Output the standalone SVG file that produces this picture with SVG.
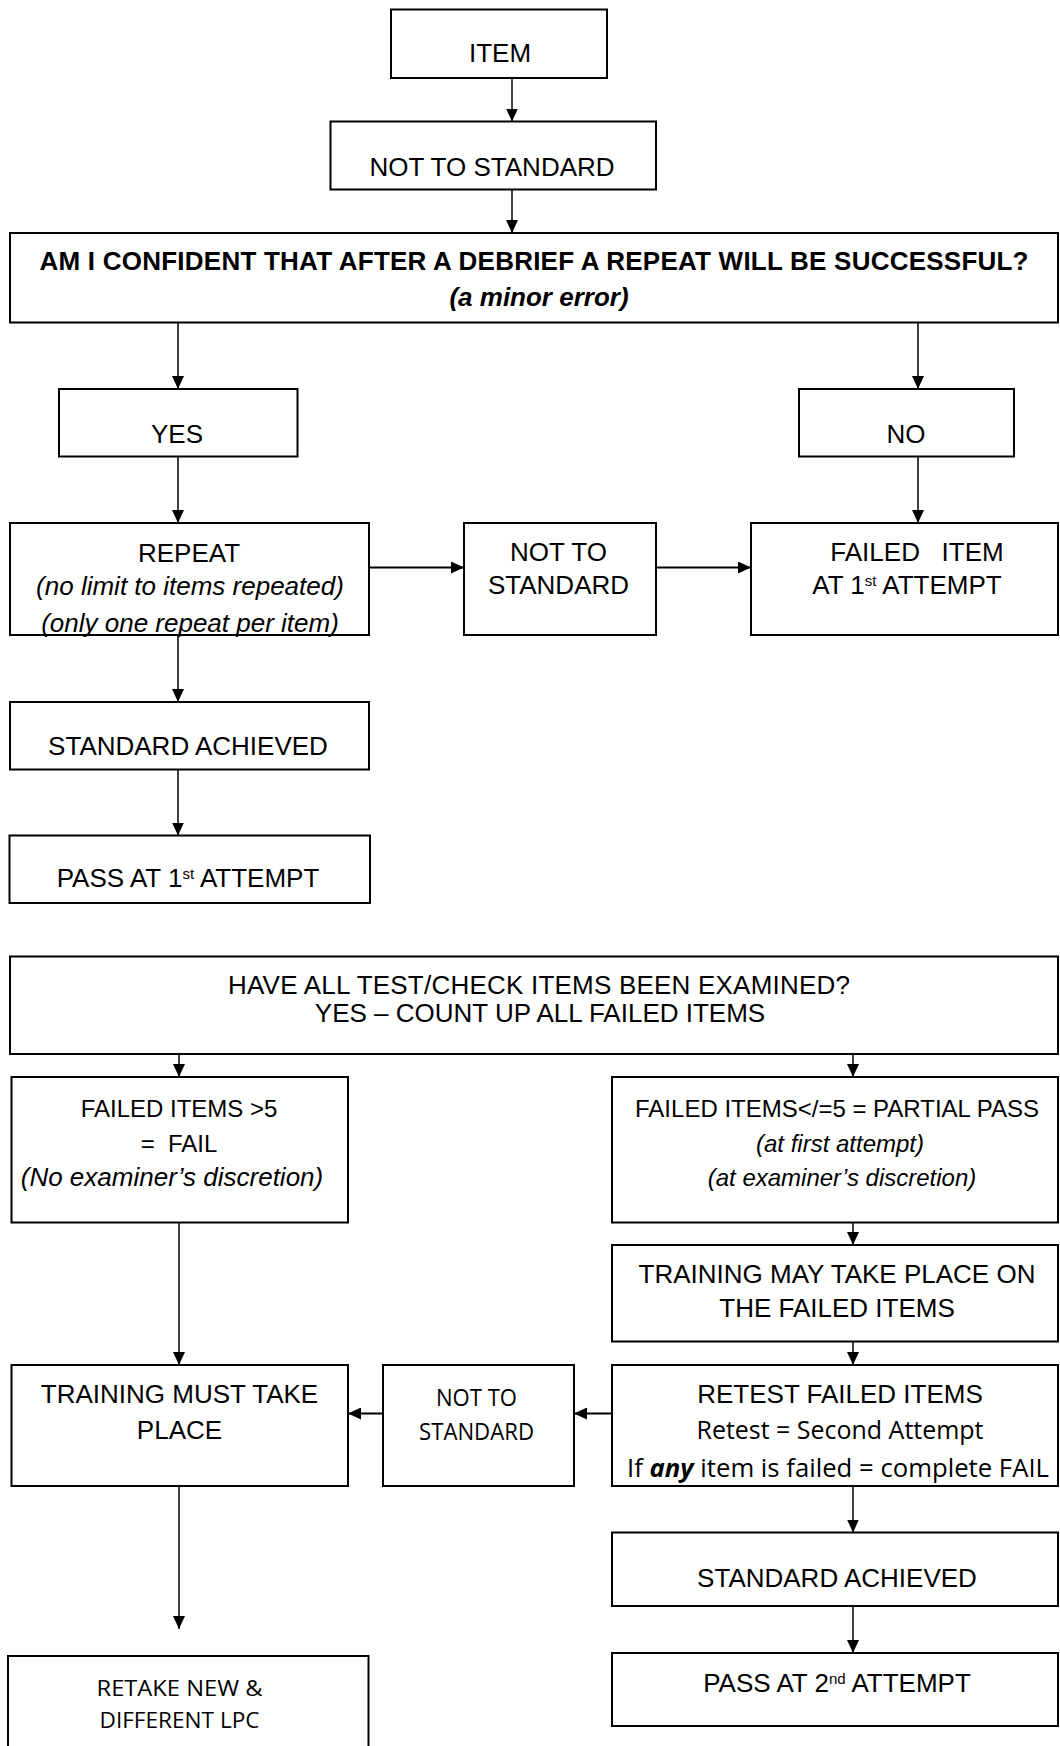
<svg xmlns="http://www.w3.org/2000/svg" width="1060" height="1746" viewBox="0 0 1060 1746">
<style>
.box{fill:#fff;stroke:#000;stroke-width:2}
.c{fill:none;stroke:#000;stroke-width:1.5;marker-end:url(#ah)}
.h{stroke-width:2}
.t{font-family:"Liberation Sans",Arial,sans-serif;font-size:26px;text-anchor:middle;fill:#000}
.s{font-size:24px}
.b{font-weight:bold}
.i{font-style:italic}
.cal{font-family:"Open Sans","Noto Sans",sans-serif;text-anchor:middle;fill:#000}
.sup{font-size:15px}
</style>
<defs>
<marker id="ah" markerUnits="userSpaceOnUse" markerWidth="14" markerHeight="12" refX="13" refY="6" orient="auto">
<path d="M0,0 L13,6 L0,12 z" fill="#000"/>
</marker>
</defs>
<rect width="1060" height="1746" fill="#fff"/>

<g id="connectors">
<line class="c" x1="512" y1="78" x2="512" y2="121.5"/>
<line class="c" x1="512" y1="189.5" x2="512" y2="233"/>
<line class="c" x1="178" y1="322.5" x2="178" y2="389"/>
<line class="c" x1="918" y1="322.5" x2="918" y2="389"/>
<line class="c" x1="178" y1="456.5" x2="178" y2="523"/>
<line class="c" x1="918" y1="456.5" x2="918" y2="523"/>
<line class="c h" x1="369" y1="567.5" x2="464" y2="567.5"/>
<line class="c h" x1="656" y1="567.5" x2="751" y2="567.5"/>
<line class="c" x1="178" y1="635" x2="178" y2="702"/>
<line class="c" x1="178" y1="769.5" x2="178" y2="835.5"/>
<line class="c" x1="179" y1="1054" x2="179" y2="1077"/>
<line class="c" x1="853" y1="1054" x2="853" y2="1077"/>
<line class="c" x1="853" y1="1222.5" x2="853" y2="1245"/>
<line class="c" x1="179" y1="1222.5" x2="179" y2="1365"/>
<line class="c" x1="853" y1="1341.5" x2="853" y2="1365"/>
<line class="c h" x1="612" y1="1413.5" x2="574" y2="1413.5"/>
<line class="c h" x1="383" y1="1413.5" x2="348" y2="1413.5"/>
<line class="c" x1="853" y1="1486" x2="853" y2="1532.5"/>
<line class="c" x1="853" y1="1606" x2="853" y2="1653"/>
<line class="c" x1="179" y1="1486" x2="179" y2="1629"/>
</g>

<g id="item">
<rect class="box" x="391" y="9.5" width="216" height="68.5"/>
<text class="t" x="500" y="62">ITEM</text>
</g>
<g id="not-to-standard-1">
<rect class="box" x="330.5" y="121.5" width="325.5" height="68"/>
<text class="t" x="492" y="176">NOT TO STANDARD</text>
</g>
<g id="question">
<rect class="box" x="10" y="233" width="1048" height="89.5"/>
<text class="t b" x="534" y="270" font-size="25" textLength="989" lengthAdjust="spacing">AM I CONFIDENT THAT AFTER A DEBRIEF A REPEAT WILL BE SUCCESSFUL?</text>
<text class="t b i" x="539" y="306" font-size="24.5">(a minor error)</text>
</g>
<g id="yes">
<rect class="box" x="59" y="389" width="238.5" height="67.5"/>
<text class="t" x="177" y="443">YES</text>
</g>
<g id="no">
<rect class="box" x="799" y="389" width="215" height="67.5"/>
<text class="t" x="906" y="443">NO</text>
</g>
<g id="repeat">
<rect class="box" x="10" y="523" width="359" height="112"/>
<text class="t" x="189" y="561.5">REPEAT</text>
<text class="t i" x="190" y="595">(no limit to items repeated)</text>
<text class="t i" x="190" y="631.5">(only one repeat per item)</text>
</g>
<g id="not-to-standard-2">
<rect class="box" x="464" y="523" width="192" height="112"/>
<text class="t" x="558.5" y="561">NOT TO</text>
<text class="t" x="558.5" y="594">STANDARD</text>
</g>
<g id="failed-item">
<rect class="box" x="751" y="523" width="307" height="112"/>
<text class="t" x="917" y="561" xml:space="preserve">FAILED   ITEM</text>
<text class="t" x="907" y="594">AT 1<tspan class="sup" baseline-shift="super">st</tspan> ATTEMPT</text>
</g>
<g id="standard-achieved-1">
<rect class="box" x="10" y="702" width="359" height="67.5"/>
<text class="t" x="188" y="755">STANDARD ACHIEVED</text>
</g>
<g id="pass-1st">
<rect class="box" x="9.5" y="835.5" width="360.5" height="67.5"/>
<text class="t" x="188" y="887">PASS AT 1<tspan class="sup" baseline-shift="super">st</tspan> ATTEMPT</text>
</g>
<g id="all-examined">
<rect class="box" x="10" y="956.5" width="1048" height="97.5"/>
<text class="t" x="539" y="994" font-size="24.5" textLength="622" lengthAdjust="spacing">HAVE ALL TEST/CHECK ITEMS BEEN EXAMINED?</text>
<text class="t" x="540" y="1021.5" font-size="24.5">YES – COUNT UP ALL FAILED ITEMS</text>
</g>
<g id="failed-gt5">
<rect class="box" x="11.5" y="1077" width="336.5" height="145.5"/>
<text class="t s" x="179" y="1116.5">FAILED ITEMS &gt;5</text>
<text class="t s" x="179" y="1152" xml:space="preserve">=  FAIL</text>
<text class="t i" x="172" y="1185.5" font-size="25.5">(No examiner’s discretion)</text>
</g>
<g id="failed-le5">
<rect class="box" x="612" y="1077" width="446" height="145.5"/>
<text class="t s" x="837" y="1116.5">FAILED ITEMS&lt;/=5 = PARTIAL PASS</text>
<text class="t s i" x="840" y="1152">(at first attempt)</text>
<text class="t s i" x="842" y="1185.5">(at examiner’s discretion)</text>
</g>
<g id="training-may">
<rect class="box" x="612" y="1245" width="446" height="96.5"/>
<text class="t" x="837" y="1282.5">TRAINING MAY TAKE PLACE ON</text>
<text class="t" x="837" y="1316.5">THE FAILED ITEMS</text>
</g>
<g id="training-must">
<rect class="box" x="11.5" y="1365" width="336.5" height="121"/>
<text class="t" x="179.5" y="1403">TRAINING MUST TAKE</text>
<text class="t" x="179.5" y="1438.5">PLACE</text>
</g>
<g id="not-to-standard-3">
<rect class="box" x="383" y="1365" width="191" height="121"/>
<text class="cal" x="476.5" y="1405.5" font-size="23" textLength="81" lengthAdjust="spacingAndGlyphs">NOT TO</text>
<text class="cal" x="476.5" y="1440" font-size="23" textLength="115" lengthAdjust="spacingAndGlyphs">STANDARD</text>
</g>
<g id="retest">
<rect class="box" x="612" y="1365" width="446" height="121"/>
<text class="t" x="840" y="1403">RETEST FAILED ITEMS</text>
<text class="cal" x="840" y="1438.5" font-size="25.5" textLength="287" lengthAdjust="spacingAndGlyphs">Retest = Second Attempt</text>
<text class="cal" x="838" y="1476.5" font-size="25.5" textLength="422" lengthAdjust="spacingAndGlyphs">If <tspan font-weight="bold" font-style="italic">any</tspan> item is failed = complete FAIL</text>
</g>
<g id="standard-achieved-2">
<rect class="box" x="612" y="1532.5" width="446" height="73.5"/>
<text class="t" x="837" y="1587">STANDARD ACHIEVED</text>
</g>
<g id="pass-2nd">
<rect class="box" x="612" y="1653" width="446" height="73"/>
<text class="t" x="837" y="1691.5">PASS AT 2<tspan class="sup" baseline-shift="super">nd</tspan> ATTEMPT</text>
</g>
<g id="retake">
<rect class="box" x="8" y="1656" width="360.5" height="110"/>
<text class="cal" x="179.5" y="1696" font-size="22" textLength="166" lengthAdjust="spacingAndGlyphs">RETAKE NEW &amp;</text>
<text class="cal" x="179.5" y="1727.5" font-size="22" textLength="160" lengthAdjust="spacingAndGlyphs">DIFFERENT LPC</text>
</g>
</svg>
